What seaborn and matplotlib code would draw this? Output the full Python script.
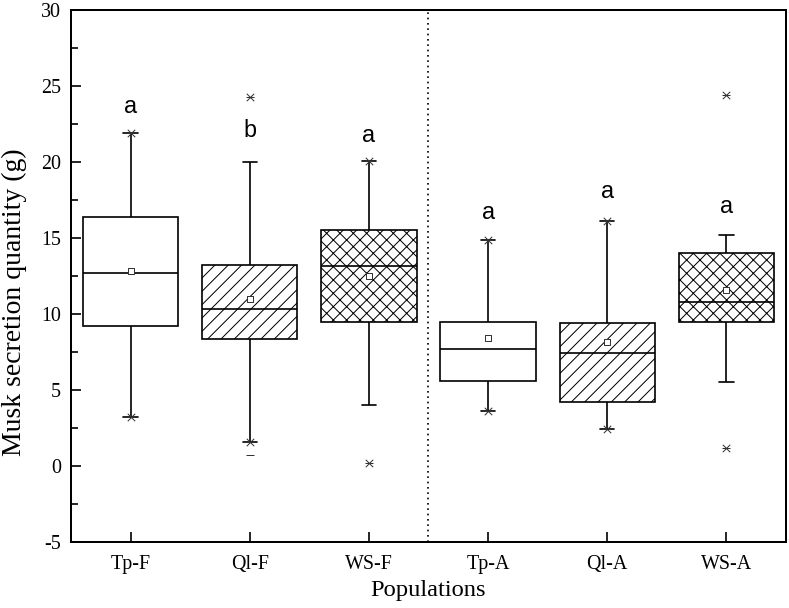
import numpy as np
import pandas as pd
import matplotlib
matplotlib.use("Agg")
import matplotlib.pyplot as plt
from matplotlib.ticker import MultipleLocator
import seaborn as sns

# ---- data ----
groups = ["Tp-F", "Ql-F", "WS-F", "Tp-A", "Ql-A", "WS-A"]
whisker_low = [3.24, 1.56, 3.99, 3.62, 2.41, 5.53]
q1 = [9.21, 8.33, 9.50, 5.61, 4.19, 9.50]
median = [12.72, 10.31, 13.18, 7.70, 7.43, 10.81]
q3 = [16.40, 13.22, 15.50, 9.45, 9.41, 13.99]
whisker_high = [21.93, 19.98, 20.09, 14.87, 16.12, 15.20]
means = [12.85, 10.99, 12.50, 8.44, 8.16, 11.56]
pct_low = [3.24, 1.56, 0.20, 3.62, 2.41, 1.20]      # 1% markers (x)
pct_high = [21.93, 24.30, 20.09, 14.87, 16.12, 24.40]  # 99% markers (x)
minimum = [3.24, 0.72, 0.20, 3.62, 2.41, 1.20]      # min markers (-)
maximum = [21.93, 24.30, 20.09, 14.87, 16.12, 24.40]  # max markers (-)
letters = ["a", "b", "a", "a", "a", "a"]
letter_y = [23.2, 21.62, 21.34, 16.25, 17.61, 16.62]
hatches = ["", "//", "xx", "", "//", "xx"]

# five-number summaries -> long table (quartiles of 5 points are exact)
rows = []
for g, a, b, c, d, e in zip(groups, whisker_low, q1, median, q3, whisker_high):
    for v in (a, b, c, d, e):
        rows.append({"group": g, "value": v})
df = pd.DataFrame(rows)

sns.set_theme(style="ticks")
plt.rcParams["font.family"] = ["Liberation Serif", "DejaVu Serif"]
plt.rcParams["hatch.linewidth"] = 0.9
plt.rcParams["axes.unicode_minus"] = False
for k in ("text.color", "axes.labelcolor", "xtick.color", "ytick.color",
          "xtick.labelcolor", "ytick.labelcolor"):
    plt.rcParams[k] = "black"

DPI = 80
fig = plt.figure(figsize=(789 / DPI, 608 / DPI), dpi=DPI)
ax = fig.add_axes([71 / 789, 1 - 542 / 608, (786 - 71) / 789, (542 - 10) / 608])

sns.boxplot(data=df, x="group", y="value", order=groups, whis=(0, 100),
            width=0.8, color="white", linecolor="black", linewidth=1.5,
            showfliers=False, ax=ax, capwidths=0.12)

for patch, h in zip(ax.patches, hatches):
    patch.set_hatch(h)
    patch.set_facecolor("white")
    patch.set_edgecolor("black")

pos = np.array([groups.index(g) for g in groups])

mk = "#333333"
ax.scatter(pos, pct_low, marker="x", s=45, color=mk, linewidths=0.9, zorder=5)
ax.scatter(pos, pct_high, marker="x", s=45, color=mk, linewidths=0.9, zorder=5)
ax.scatter(pos, minimum, marker="_", s=45, color=mk, linewidths=0.9, zorder=5)
ax.scatter(pos, maximum, marker="_", s=45, color=mk, linewidths=0.9, zorder=5)
ax.scatter(pos, means, marker="s", s=28, facecolor="white", edgecolor=mk,
           linewidths=0.9, zorder=6)

for p, t, y in zip(pos, letters, letter_y):
    ax.text(p, y, t, ha="center", va="baseline", fontsize=21, color="black",
            family=["Liberation Sans", "DejaVu Sans"])

ax.axvline(2.5, color="black", linestyle=(0, (1, 2.2)), linewidth=1.5)

ax.set_xlim(-0.5, 5.5)
ax.set_ylim(-5, 30)
ax.yaxis.set_major_locator(MultipleLocator(5))
ax.yaxis.set_minor_locator(MultipleLocator(2.5))
ax.tick_params(axis="both", which="major", direction="in", length=9, width=1.5,
               labelsize=18, top=False, right=False, color="black",
               labelcolor="black")
ax.tick_params(axis="y", which="major", pad=9)
ax.tick_params(axis="x", which="major", pad=12)
ax.tick_params(axis="y", which="minor", direction="in", length=6, width=1.5,
               right=False)
for s in ax.spines.values():
    s.set_visible(True)
    s.set_linewidth(1.8)
    s.set_color("black")

ax.set_xlabel("Populations", fontsize=22, labelpad=5)
ax.set_ylabel("Musk secretion quantity (g)", fontsize=25)
ax.yaxis.set_label_coords(-0.061, 0.451)

fig.savefig("out.png", dpi=DPI)
